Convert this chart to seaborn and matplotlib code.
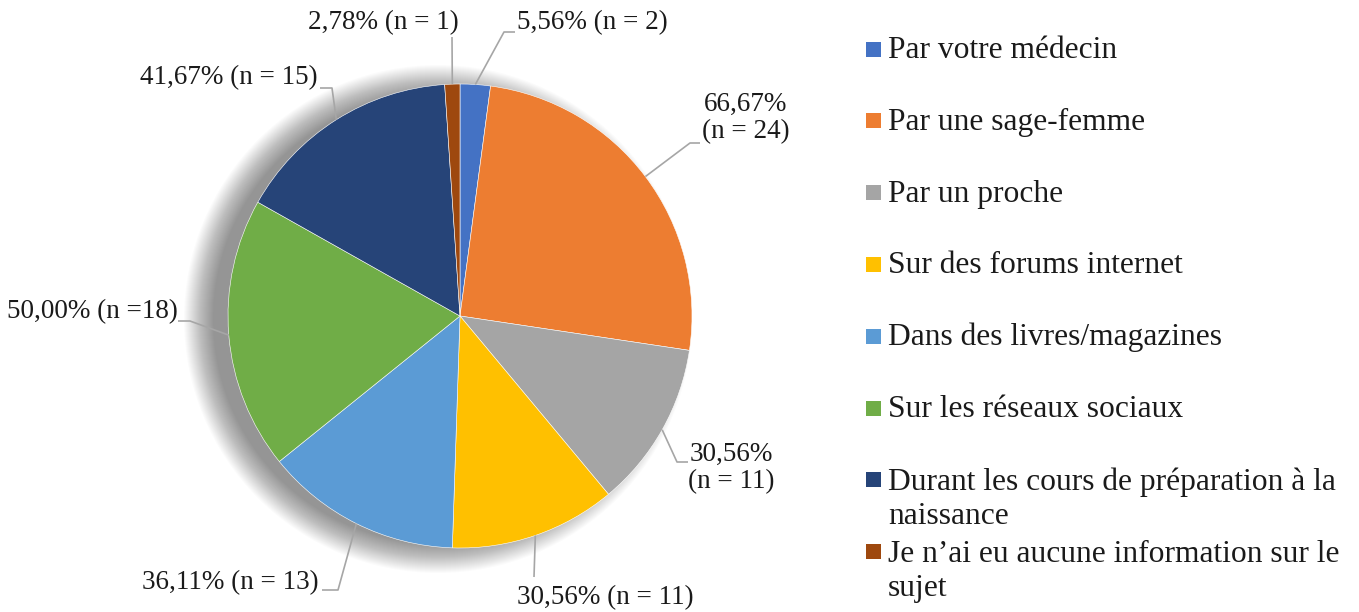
import numpy as np
import matplotlib.pyplot as plt
from matplotlib.patches import Circle, Rectangle
import seaborn as sns

# Configuration globale
sns.set_theme(style='white')
plt.rcParams['font.family'] = ['Liberation Serif', 'DejaVu Serif']

# --- Données ---
CATEGORIES = ["Par votre médecin", "Par une sage-femme", "Par un proche",
              "Sur des forums internet", "Dans des livres/magazines",
              "Sur les réseaux sociaux",
              "Durant les cours de préparation à la\nnaissance",
              "Je n’ai eu aucune information sur le\nsujet"]
EFFECTIFS = [2, 24, 11, 11, 13, 18, 15, 1]
ETIQUETTES = ["5,56% (n = 2)", "66,67%\n(n = 24)", "30,56%\n(n = 11)",
              "30,56% (n = 11)", "36,11% (n = 13)", "50,00% (n =18)",
              "41,67% (n = 15)", "2,78% (n = 1)"]
COULEURS = ["#4472C4", "#ED7D31", "#A5A5A5", "#FFC000",
            "#5B9BD5", "#70AD47", "#264478", "#9E480E"]

# --- Mise en page (pixels, origine en haut à gauche) ---
W, H = 1359, 612
CENTRE = (460, 316)
RAYON = 232
# position du texte, coude du trait, fin du trait
POS_ETIQ = [
    ((592, 23), (504, 32), (515, 32)),
    ((746, 118), (690, 143), (700, 143)),
    ((731, 468), (677, 462), (688, 462)),
    ((605, 598), (534, 577), (534, 577)),
    ((230, 583), (338, 590), (322, 590)),
    ((92, 312), (190, 321), (178, 321)),
    ((229, 78), (332, 88), (320, 88)),
    ((383, 23), (452, 37), (452, 37)),
]
LEG_X = 866
LEG_Y0 = 49
LEG_PAS = 71.8
LEG_INTERLIGNE = 35


def py(y):
    return H - y


fig = plt.figure(figsize=(W / 100, H / 100), dpi=100)
ax = fig.add_axes([0, 0, 1, 1])

# ombre floue (style Excel), décalée vers la gauche
for r in range(254, 224, -1):
    ax.add_patch(Circle((CENTRE[0] - 22, py(CENTRE[1] + 3)), r,
                        color='black', alpha=0.0165, lw=0, zorder=0))

wedges, _ = ax.pie(EFFECTIFS, colors=COULEURS, startangle=90, counterclock=False,
                   center=(CENTRE[0], py(CENTRE[1])), radius=RAYON,
                   wedgeprops=dict(edgecolor='white', linewidth=0.4))
for w in wedges:
    w.set_zorder(2)

for w, txt, (tpos, coude, fin) in zip(wedges, ETIQUETTES, POS_ETIQ):
    ang = np.deg2rad((w.theta1 + w.theta2) / 2)
    x0 = CENTRE[0] + RAYON * np.cos(ang)
    y0 = py(CENTRE[1]) + RAYON * np.sin(ang)
    ax.plot([x0, coude[0], fin[0]], [y0, py(coude[1]), py(fin[1])],
            color='#A6A6A6', lw=1.2, zorder=3, solid_capstyle='butt')
    ax.text(tpos[0], py(tpos[1]), txt, ha='center', va='center',
            fontsize=19.5, color='#1a1a1a', linespacing=1.15 if '\n' in txt else 1.2)

# légende manuelle
for i, (cat, col) in enumerate(zip(CATEGORIES, COULEURS)):
    yc = LEG_Y0 + LEG_PAS * i
    ax.add_patch(Rectangle((LEG_X, py(yc + 7.5)), 15, 15, color=col, lw=0))
    n_lignes = cat.count('\n')
    ax.text(888, py(yc + 9 + n_lignes * LEG_INTERLIGNE), cat, ha='left',
            va='baseline', fontsize=22.7, color='#1a1a1a', linespacing=1.2)

ax.set_xlim(0, W)
ax.set_ylim(0, H)
ax.axis('off')

plt.savefig('out.png', dpi=100)
